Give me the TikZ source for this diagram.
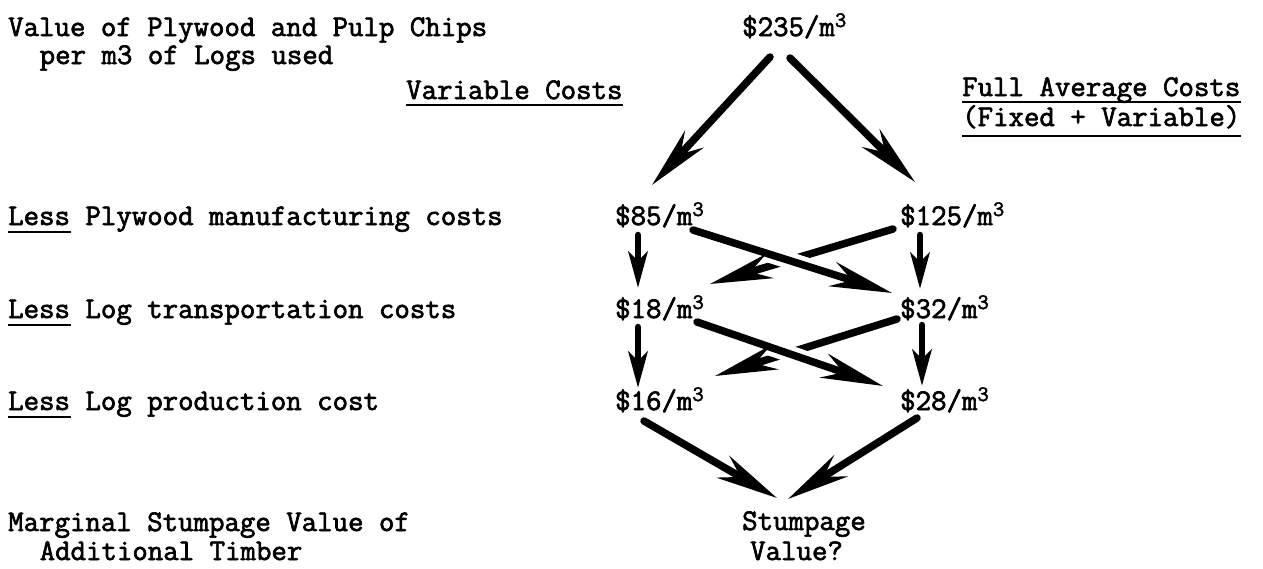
\documentclass[tikz,border=0pt]{standalone}
\usepackage{fontspec}
\usetikzlibrary{arrows.meta}
\newfontfamily\twfont{Latin Modern Mono}[FakeBold=2.2]
\tikzset{
  tw/.style={font=\twfont\fontsize{30}{30}\selectfont, inner sep=0pt, anchor=base west},
  uline/.style={line width=2.4pt},
  bigarr/.style={line width=7.5pt, line cap=round, -{Stealth[length=62pt,width=25pt,inset=20pt]}},
  smallarr/.style={line width=6.5pt, line cap=round, -{Stealth[length=36pt,width=19pt,inset=9pt]}},
  gapline/.style={white, line width=17pt},
}
\newcommand\cubed{\raisebox{9pt}{\fontsize{22}{22}\selectfont 3}}
\begin{document}
\begin{tikzpicture}[x=1pt,y=-1pt]
\useasboundingbox[fill=white] (0,0) rectangle (1263,568);
% left column
\node[tw] (t1) at (8,36) {Value of Plywood and Pulp Chips};
\node[tw] (t2) at (39.5,64) {per m3 of Logs used};
\node[tw] (vc) at (406,99) {Variable Costs};
\node[tw] (fa) at (962,96) {Full Average Costs};
\node[tw] (fb) at (962,126) {(Fixed + Variable)};
\node[tw] (l1) at (8,225) {Less Plywood manufacturing costs};
\node[tw] (l2) at (8,318) {Less Log transportation costs};
\node[tw] (l3) at (8,410) {Less Log production cost};
\node[tw] (m1) at (8,531) {Marginal Stumpage Value of};
\node[tw] (m2) at (39.5,560) {Additional Timber};
% values
\node[tw] (r0) at (742,36) {\$235/m\cubed};
\node[tw] (a1) at (615,225) {\$85/m\cubed};
\node[tw] (b1) at (900,225) {\$125/m\cubed};
\node[tw] (a2) at (615,318) {\$18/m\cubed};
\node[tw] (b2) at (900,318) {\$32/m\cubed};
\node[tw] (a3) at (615,410) {\$16/m\cubed};
\node[tw] (b3) at (900,410) {\$28/m\cubed};
\node[tw] (s1) at (742,530) {Stumpage};
\node[tw] (s2) at (750,560) {Value?};
% underlines
\draw[uline] ([yshift=-7pt]l1.base west) -- ++(63,0);
\draw[uline] ([yshift=-7pt]l2.base west) -- ++(63,0);
\draw[uline] ([yshift=-7pt]l3.base west) -- ++(63,0);
\draw[uline] ([yshift=-6pt]vc.base west) -- ([yshift=-6pt]vc.base east);
\draw[uline] ([yshift=-6pt]fa.base west) -- ([yshift=-6pt]fa.base east);
\draw[uline] ([yshift=-10pt]fb.base west) -- ([yshift=-10pt]fb.base east);
% arrows from top
\draw[bigarr] ([shift={(28,21)}]r0.base west) -- ([shift={(37,-40)}]a1.base west);
\draw[bigarr] ([shift={(48,22)}]r0.base west) -- ([shift={(15,-43)}]b1.base west);
% verticals
\draw[smallarr] ([shift={(23,10)}]a1.base west) -- ([shift={(23,-30)}]a2.base west);
\draw[smallarr] ([shift={(20,10)}]b1.base west) -- ([shift={(20,-29)}]b2.base west);
\draw[smallarr] ([shift={(23,9)}]a2.base west) -- ([shift={(23,-22)}]a3.base west);
\draw[smallarr] ([shift={(22,7)}]b2.base west) -- ([shift={(22,-24)}]b3.base west);
% upper cross
\draw[bigarr] ([shift={(-7,4)}]b1.base west) -- ([shift={(95,-34)}]a2.base west);
\path ([shift={(78,5)}]a1.base west) -- ([shift={(-8,-25)}]b2.base west)
  coordinate[pos=0.37] (g1a) coordinate[pos=0.57] (g1b);
\draw[gapline] (g1a) -- (g1b);
\draw[bigarr] ([shift={(78,5)}]a1.base west) -- ([shift={(-8,-25)}]b2.base west);
% lower cross
\draw[bigarr] ([shift={(-3,1)}]b2.base west) -- ([shift={(100,-34)}]a3.base west);
\path ([shift={(82,4)}]a2.base west) -- ([shift={(-17,-24)}]b3.base west)
  coordinate[pos=0.39] (g2a) coordinate[pos=0.59] (g2b);
\draw[gapline] (g2a) -- (g2b);
\draw[bigarr] ([shift={(82,4)}]a2.base west) -- ([shift={(-17,-24)}]b3.base west);
% to stumpage
\draw[bigarr] ([shift={(29,11)}]a3.base west) -- ([shift={(35,-32)}]s1.base west);
\draw[bigarr] ([shift={(17,8)}]b3.base west) -- ([shift={(46,-31)}]s1.base west);
\end{tikzpicture}
\end{document}
